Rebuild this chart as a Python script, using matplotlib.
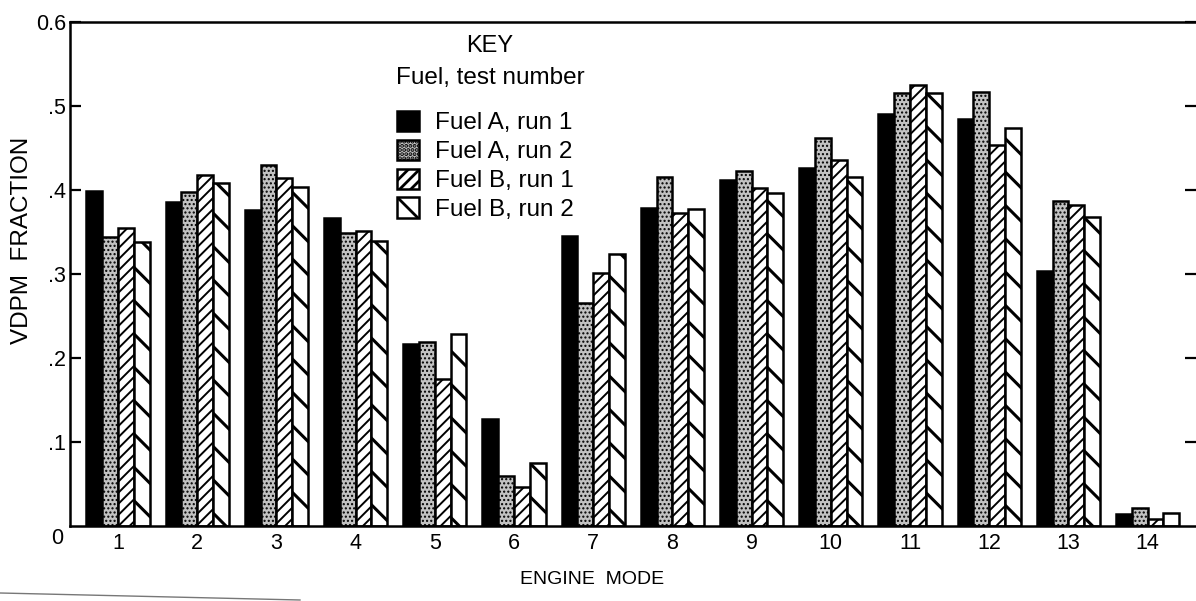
import numpy as np
import matplotlib
matplotlib.use("Agg")
import matplotlib.pyplot as plt
from matplotlib.lines import Line2D

plt.rcParams['font.family'] = ['Liberation Sans', 'DejaVu Sans']
plt.rcParams['hatch.linewidth'] = 2.0

# engine modes and VDPM fractions
modes = list(range(1, 15))
fuel_a_run1 = [0.399, 0.386, 0.376, 0.367, 0.217, 0.127, 0.345, 0.379, 0.412, 0.426, 0.490, 0.485, 0.304, 0.014]
fuel_a_run2 = [0.344, 0.398, 0.430, 0.349, 0.219, 0.059, 0.265, 0.416, 0.423, 0.462, 0.516, 0.517, 0.387, 0.021]
fuel_b_run1 = [0.355, 0.418, 0.414, 0.351, 0.175, 0.047, 0.301, 0.373, 0.402, 0.436, 0.525, 0.454, 0.382, 0.008]
fuel_b_run2 = [0.338, 0.408, 0.404, 0.339, 0.228, 0.075, 0.324, 0.377, 0.397, 0.415, 0.516, 0.474, 0.368, 0.016]

series_labels = ['Fuel A, run 1', 'Fuel A, run 2', 'Fuel B, run 1', 'Fuel B, run 2']
ytick_vals = [0.1, 0.2, 0.3, 0.4, 0.5, 0.6]
ytick_labels = ['.1', '.2', '.3', '.4', '.5', '0.6']

W, H = 1196, 601
fig = plt.figure(figsize=(W / 100, H / 100), dpi=100)
ax = fig.add_axes([70 / W, 1 - 526 / H, 1 - 70 / W, (526 - 22) / H])

x = np.array(modes, dtype=float)
bw = 0.2
styles = [
    dict(facecolor='black', hatch=None, hlw=2.0),
    dict(facecolor='#c2c2c2', hatch='....', hlw=1.0),
    dict(facecolor='white', hatch='///', hlw=1.4),
    dict(facecolor='white', hatch='\\', hlw=2.2),
]
all_series = [fuel_a_run1, fuel_a_run2, fuel_b_run1, fuel_b_run2]
handles = []
for i, (vals, st) in enumerate(zip(all_series, styles)):
    b = ax.bar(x + (i - 1.5) * bw, vals, width=bw, facecolor=st['facecolor'],
               hatch=st['hatch'], edgecolor='black', linewidth=1.8,
               label=series_labels[i])
    for p in b.patches:
        if hasattr(p, 'set_hatch_linewidth'):
            p.set_hatch_linewidth(st['hlw'])
    handles.append(b)

ax.set_xlim(1 - 48 / 79.2, 1 + (W - 118) / 79.2)
ax.set_ylim(0, 0.6)

ax.spines['right'].set_visible(False)
for s in ['left', 'top', 'bottom']:
    ax.spines[s].set_linewidth(1.8)

ax.set_yticks(ytick_vals)
ax.set_yticklabels(ytick_labels, fontsize=15.5)
ax.tick_params(axis='y', direction='in', length=8, width=1.6, pad=3, right=True)
ax.set_xticks(x)
ax.set_xticklabels([str(m) for m in modes], fontsize=15.5)
ax.tick_params(axis='x', length=0, pad=5)
ax.text(57 / W, 1 - 538 / H, '0', transform=fig.transFigure, fontsize=15.5,
        ha='center', va='center')

fig.text(22 / W, 1 - 240 / H, 'VDPM  FRACTION', rotation=90, fontsize=17.5,
         ha='center', va='center')
fig.text(592 / W, 1 - 580 / H, 'ENGINE  MODE', fontsize=14,
         ha='center', va='center')

fig.text(490 / W, 1 - 46 / H, 'KEY', fontsize=17, ha='center', va='center')
fig.text(490 / W, 1 - 78 / H, 'Fuel, test number', fontsize=17.5,
         ha='center', va='center')
leg = fig.legend(handles=handles, labels=series_labels, loc='upper left',
                 bbox_to_anchor=(397 / W, 1 - 111 / H), frameon=False, fontsize=17.5,
                 handlelength=0.9, handleheight=0.9, labelspacing=0.22,
                 handletextpad=0.65, borderpad=0, borderaxespad=0)

# stray scanner line at lower left
fig.add_artist(Line2D([0, 300 / W], [1 - 593 / H, 1 - 600 / H],
                      transform=fig.transFigure, color='#777777', lw=1))

fig.savefig('out.png', dpi=100)
